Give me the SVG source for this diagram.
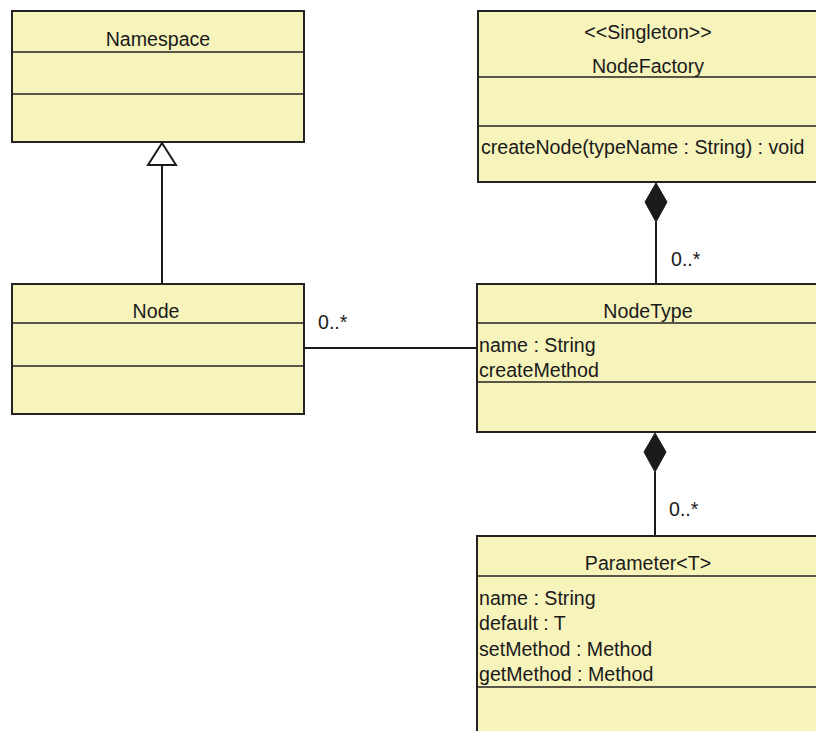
<svg xmlns="http://www.w3.org/2000/svg" width="816" height="731" viewBox="0 0 816 731">
  <style>
    .box { fill: #f6f3bb; stroke: #222; stroke-width: 2; }
    .div { stroke: #222; stroke-width: 1.6; fill: none; }
    .t { font-family: "Liberation Sans", Arial, sans-serif; font-size: 19.6px; fill: #1a1a1a; }
    .c { text-anchor: middle; }
    .edge { stroke: #1a1a1a; stroke-width: 2; fill: none; }
    .diamond { fill: #1a1a1a; stroke: #1a1a1a; stroke-width: 1; }
    .tri { fill: #fff; stroke: #1a1a1a; stroke-width: 2; }
  </style>
  <rect width="816" height="731" fill="#fff"/>

  <!-- Classes -->
  <g id="Namespace">
    <rect class="box" x="12" y="11" width="292" height="131"/>
    <line class="div" x1="12" y1="52" x2="304" y2="52"/>
    <line class="div" x1="12" y1="94" x2="304" y2="94"/>
    <text class="t c" x="158" y="46">Namespace</text>
  </g>

  <g id="NodeFactory">
    <rect class="box" x="478" y="11" width="342" height="171"/>
    <line class="div" x1="478" y1="77" x2="820" y2="77"/>
    <line class="div" x1="478" y1="126" x2="820" y2="126"/>
    <text class="t c" x="648" y="39">&lt;&lt;Singleton&gt;&gt;</text>
    <text class="t c" x="648" y="73">NodeFactory</text>
    <text class="t" x="481" y="154">createNode(typeName : String) : void</text>
  </g>

  <g id="Node">
    <rect class="box" x="12" y="284" width="292" height="130"/>
    <line class="div" x1="12" y1="323" x2="304" y2="323"/>
    <line class="div" x1="12" y1="366" x2="304" y2="366"/>
    <text class="t c" x="156" y="318">Node</text>
  </g>

  <g id="NodeType">
    <rect class="box" x="477" y="284" width="343" height="148"/>
    <line class="div" x1="477" y1="323" x2="820" y2="323"/>
    <line class="div" x1="477" y1="382" x2="820" y2="382"/>
    <text class="t c" x="648" y="318">NodeType</text>
    <text class="t" x="479" y="352">name : String</text>
    <text class="t" x="479" y="377">createMethod</text>
  </g>

  <g id="Parameter">
    <rect class="box" x="477" y="536" width="343" height="210"/>
    <line class="div" x1="477" y1="576" x2="820" y2="576"/>
    <line class="div" x1="477" y1="687" x2="820" y2="687"/>
    <text class="t c" x="648" y="570">Parameter&lt;T&gt;</text>
    <text class="t" x="479" y="605">name : String</text>
    <text class="t" x="479" y="630">default : T</text>
    <text class="t" x="479" y="656">setMethod : Method</text>
    <text class="t" x="479" y="681">getMethod : Method</text>
  </g>

  <!-- Relationships -->
  <g id="connectors">
    <!-- Node generalizes Namespace -->
    <line class="edge" x1="162" y1="165" x2="162" y2="284"/>
    <polygon class="tri" points="162,143 148,165 176,165"/>

    <!-- Node association NodeType -->
    <line class="edge" x1="304" y1="348" x2="477" y2="348"/>
    <text class="t" x="318" y="329">0..*</text>

    <!-- NodeFactory composes NodeType -->
    <line class="edge" x1="656" y1="222" x2="656" y2="284"/>
    <polygon class="diamond" points="656,183 667,202 656,222 645,202"/>
    <text class="t" x="671" y="266">0..*</text>

    <!-- NodeType composes Parameter -->
    <line class="edge" x1="655" y1="472" x2="655" y2="536"/>
    <polygon class="diamond" points="655,433 666,452 655,472 644,452"/>
    <text class="t" x="669" y="516">0..*</text>
  </g>
</svg>
